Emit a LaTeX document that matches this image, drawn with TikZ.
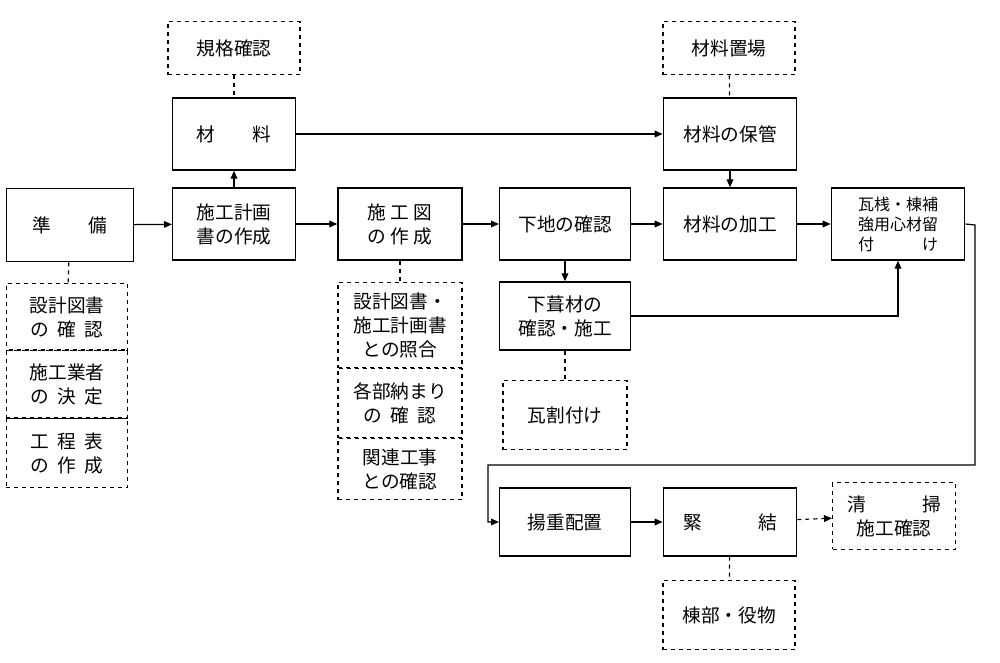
\documentclass[tikz,border=0pt]{standalone}
\usepackage{fontspec}
\setmainfont{Noto Sans CJK JP}
\usetikzlibrary{arrows.meta}
\tikzset{
  box/.style={draw, line width=1pt, inner sep=0pt, font=\fontsize{14}{18}\selectfont},
  dbox/.style={box, dashed},
  flow/.style={line width=0.9pt, -{Triangle[length=6pt,width=5pt]}},
  link/.style={line width=0.9pt, dashed},
}
\newcommand{\bx}[6]{\node[#1, minimum width=#4*0.75pt, minimum height=#5*0.75pt, align=center] (#2) at ({(#3)}) {#6};}
\begin{document}
\begin{tikzpicture}[x=0.75pt,y=-0.75pt]
\useasboundingbox (0,0) rectangle (1000,663);
% top row
\node[dbox, minimum width=99pt, minimum height=40pt] (kikaku) at (234,48) {規格確認};
\node[box, minimum width=92pt, minimum height=54pt] (zai) at (234,134) {材\qquad 料};
\node[dbox, minimum width=99pt, minimum height=40pt] (okiba) at (729,48) {材料置場};
\node[box, minimum width=100pt, minimum height=54pt] (hokan) at (730,134) {材料の保管};
% main row
\node[box, minimum width=95pt, minimum height=55pt] (junbi) at (70,225) {準\qquad 備};
\node[box, minimum width=92pt, minimum height=54pt, align=center] (keikaku) at (234,224) {施工計画\\書の作成};
\node[box, minimum width=93pt, minimum height=54pt, align=center] (sekozu) at (400,224) {施\ 工\ 図\\の\ 作\ 成};
\node[box, minimum width=98pt, minimum height=54pt] (shitaji) at (565,224) {下地の確認};
\node[box, minimum width=100pt, minimum height=54pt] (kako) at (730,224) {材料の加工};
\node[box, minimum width=100pt, minimum height=54pt, align=left, font=\fontsize{12}{15}\selectfont] (kawara) at (898,224) {瓦桟・棟補\\強用心材留\\付\qquad\quad け};
% second row
\node[box, minimum width=98pt, minimum height=51pt, align=center] (shitabuki) at (565,316) {下葺材の\\確認・施工};
\node[dbox, minimum width=93pt, minimum height=52pt] (warituke) at (565,415) {瓦割付け};
% left stack
\node[dbox, minimum width=91pt, minimum height=50pt, align=center] (s1) at (67,317) {設計図書\\の\ \ 確\ \ 認};
\node[dbox, minimum width=91pt, minimum height=51pt, align=center] (s2) at (67,384) {施工業者\\の\ \ 決\ \ 定};
\node[dbox, minimum width=91pt, minimum height=52pt, align=center] (s3) at (67,453) {工\ \ 程\ \ 表\\の\ \ 作\ \ 成};
% middle stack
\node[dbox, minimum width=93pt, minimum height=64pt, align=center] (m1) at (400,325) {設計図書・\\施工計画書\\との照合};
\node[dbox, minimum width=93pt, minimum height=52pt, align=center] (m2) at (400,403) {各部納まり\\の\ \ 確\ \ 認};
\node[dbox, minimum width=93pt, minimum height=46pt, align=center] (m3) at (400,469) {関連工事\\との確認};
% bottom row
\node[box, minimum width=98pt, minimum height=51pt] (yoju) at (565,522) {揚重配置};
\node[box, minimum width=100pt, minimum height=51pt] (kinketsu) at (730,522) {緊\qquad\quad 結};
\node[dbox, minimum width=92pt, minimum height=50pt, align=center] (seiso) at (894,516) {清\qquad\quad 掃\\施工確認};
\node[dbox, minimum width=99pt, minimum height=52pt] (munabu) at (729,615) {棟部・役物};
% connectors
\draw[flow] (junbi) -- (keikaku);
\draw[flow] (keikaku) -- (zai);
\draw[flow] (zai) -- (hokan);
\draw[flow] (hokan) -- (kako);
\draw[flow] (keikaku) -- (sekozu);
\draw[flow] (sekozu) -- (shitaji);
\draw[flow] (shitaji) -- (kako);
\draw[flow] (kako) -- (kawara);
\draw[flow] (shitaji) -- (shitabuki);
\draw[flow] (shitabuki.east) -| (kawara.south);
\coordinate (r1) at (975,225);
\coordinate (r2) at (975,465);
\coordinate (r3) at (488,465);
\draw[flow] (kawara.east) -- (r1) -- (r2) -- (r3) |- (yoju.west);
\draw[flow] (yoju) -- (kinketsu);
\draw[flow, dashed] (kinketsu) -- (seiso);
\draw[link] (kikaku) -- (zai);
\draw[link] (okiba) -- (hokan);
\draw[link] (junbi) -- (s1);
\draw[link] (sekozu) -- (m1);
\draw[link] (shitabuki) -- (warituke);
\draw[link] (kinketsu) -- (munabu);
\end{tikzpicture}
\end{document}
